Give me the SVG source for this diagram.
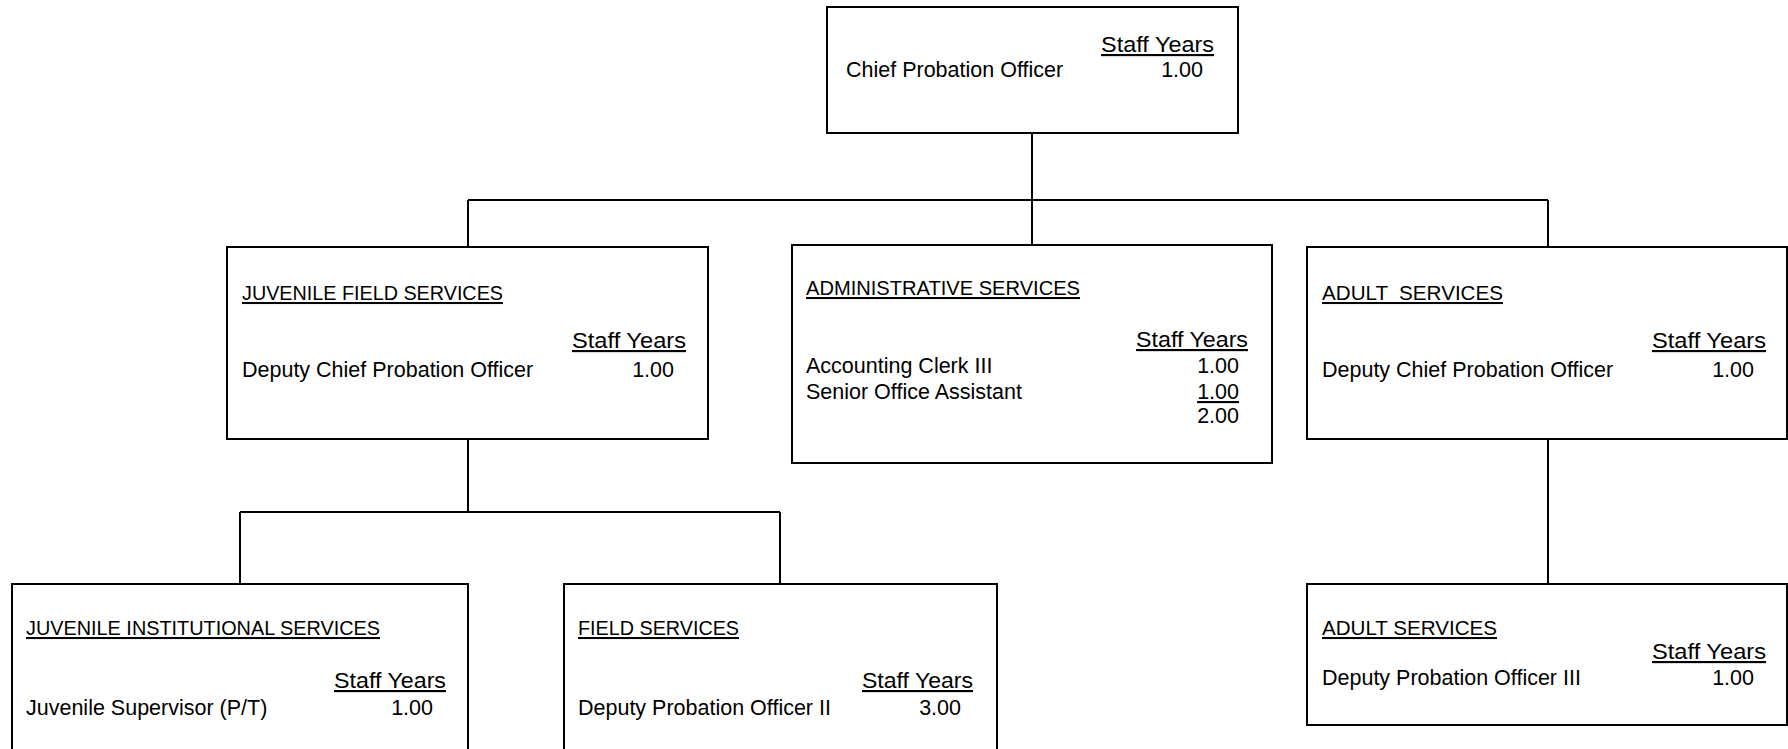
<svg xmlns="http://www.w3.org/2000/svg" width="1788" height="749" viewBox="0 0 1788 749">
<style>
.box{fill:#fff;stroke:#000;stroke-width:2}
.ln{stroke:#000;stroke-width:2;fill:none}
text{font-family:"Liberation Sans",Arial,sans-serif;font-size:21.5px;fill:#000}
.h{font-size:20.5px;text-decoration:underline}
.u{text-decoration:underline}
.r{text-anchor:end}
</style>
<rect width="1788" height="749" fill="#fff"/>
<g id="connectors">
<path class="ln" d="M1032,133V245M468,200H1548M468,200V253M1548,200V247M468,439V512M240,512H780M240,512V584M780,512V584M1548,439V584"/>
</g>
<g id="chief">
<rect class="box" x="827" y="7" width="411" height="126"/>
<text class="u" x="1101" y="52" textLength="113" lengthAdjust="spacingAndGlyphs">Staff Years</text>
<text x="846" y="77">Chief Probation Officer</text>
<text class="r" x="1203" y="77">1.00</text>
</g>
<g id="juvenile-field">
<rect class="box" x="227" y="247" width="481" height="192"/>
<text class="h" x="242" y="300" textLength="261" lengthAdjust="spacingAndGlyphs">JUVENILE FIELD SERVICES</text>
<text class="u" x="572" y="348" textLength="114" lengthAdjust="spacingAndGlyphs">Staff Years</text>
<text x="242" y="377">Deputy Chief Probation Officer</text>
<text class="r" x="674" y="377">1.00</text>
</g>
<g id="admin">
<rect class="box" x="792" y="245" width="480" height="218"/>
<text class="h" x="806" y="295" textLength="274" lengthAdjust="spacingAndGlyphs">ADMINISTRATIVE SERVICES</text>
<text class="u" x="1136" y="347" textLength="112" lengthAdjust="spacingAndGlyphs">Staff Years</text>
<text x="806" y="373">Accounting Clerk III</text>
<text class="r" x="1239" y="373">1.00</text>
<text x="806" y="399">Senior Office Assistant</text>
<text class="r u" x="1239" y="399">1.00</text>
<text class="r" x="1239" y="423">2.00</text>
</g>
<g id="adult-top">
<rect class="box" x="1307" y="247" width="480" height="192"/>
<text class="h" x="1322" y="300" textLength="181" lengthAdjust="spacingAndGlyphs" xml:space="preserve">ADULT  SERVICES</text>
<text class="u" x="1652" y="348" textLength="114" lengthAdjust="spacingAndGlyphs">Staff Years</text>
<text x="1322" y="377">Deputy Chief Probation Officer</text>
<text class="r" x="1754" y="377">1.00</text>
</g>
<g id="juvenile-institutional">
<rect class="box" x="12" y="584" width="456" height="180"/>
<text class="h" x="26" y="635" textLength="354" lengthAdjust="spacingAndGlyphs">JUVENILE INSTITUTIONAL SERVICES</text>
<text class="u" x="334" y="688" textLength="112" lengthAdjust="spacingAndGlyphs">Staff Years</text>
<text x="26" y="715">Juvenile Supervisor (P/T)</text>
<text class="r" x="433" y="715">1.00</text>
</g>
<g id="field-services">
<rect class="box" x="564" y="584" width="433" height="180"/>
<text class="h" x="578" y="635" textLength="161" lengthAdjust="spacingAndGlyphs">FIELD SERVICES</text>
<text class="u" x="862" y="688" textLength="111" lengthAdjust="spacingAndGlyphs">Staff Years</text>
<text x="578" y="715">Deputy Probation Officer II</text>
<text class="r" x="961" y="715">3.00</text>
</g>
<g id="adult-bottom">
<rect class="box" x="1307" y="584" width="480" height="141"/>
<text class="h" x="1322" y="635" textLength="175" lengthAdjust="spacingAndGlyphs">ADULT SERVICES</text>
<text class="u" x="1652" y="659" textLength="114" lengthAdjust="spacingAndGlyphs">Staff Years</text>
<text x="1322" y="685">Deputy Probation Officer III</text>
<text class="r" x="1754" y="685">1.00</text>
</g>
</svg>
